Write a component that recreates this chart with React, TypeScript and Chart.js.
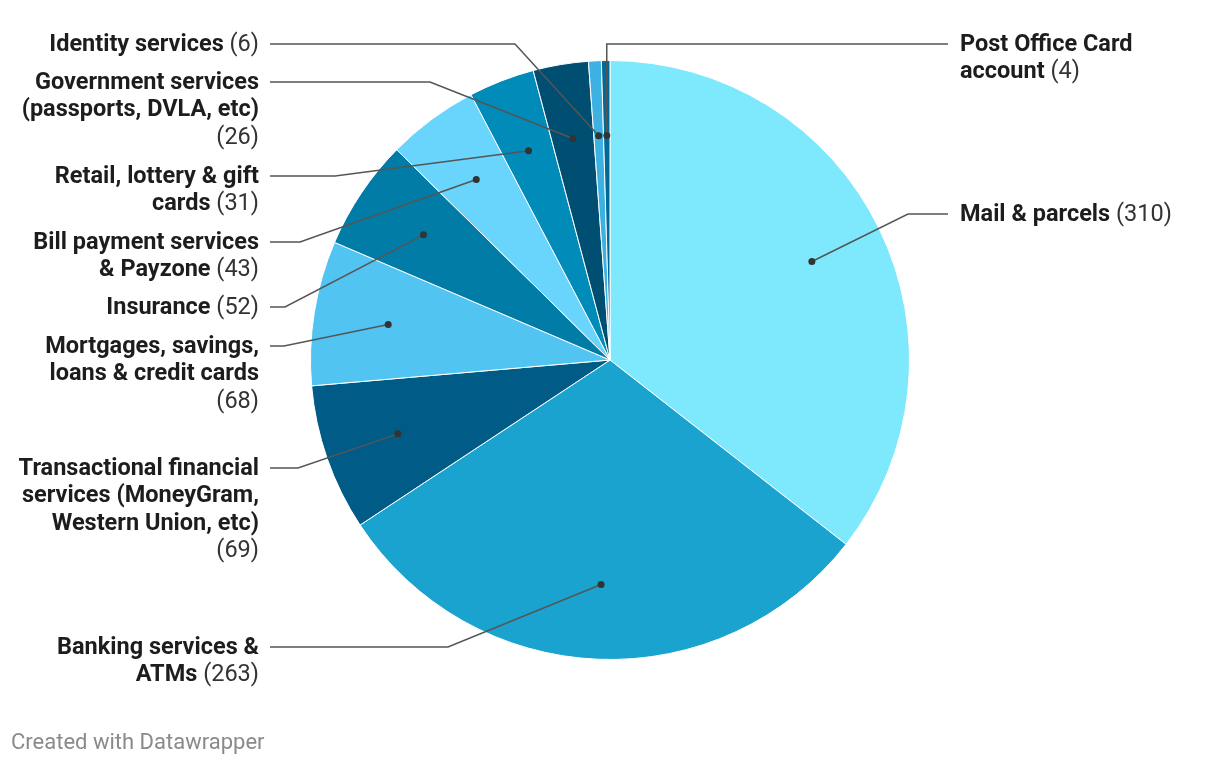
import React, { useEffect, useRef } from "react";
import { Chart, registerables } from "chart.js";

Chart.register(...registerables);

const categories = [
  "Mail & parcels",
  "Banking services & ATMs",
  "Transactional financial services (MoneyGram, Western Union, etc)",
  "Mortgages, savings, loans & credit cards",
  "Insurance",
  "Bill payment services & Payzone",
  "Retail, lottery & gift cards",
  "Government services (passports, DVLA, etc)",
  "Identity services",
  "Post Office Card account",
];
const values = [310, 263, 69, 68, 52, 43, 31, 26, 6, 4];
const colors = [
  "#7ee8fd",
  "#1aa3cf",
  "#005c86",
  "#51c4f1",
  "#017ca7",
  "#69d5fc",
  "#008bb9",
  "#004e72",
  "#3cb1e2",
  "#006a98",
];

// label layout (side, anchor y of first line, elbow x of the leader line)
const labelSide = ["right", "left", "left", "left", "left", "left", "left", "left", "left", "right"];
const labelY = [214, 647, 468, 346, 307, 242, 176, 82, 44, 44];
const elbowX: (number | null)[] = [908, 448, 298, 284, 285, 300, 335, 430, 515, null];

const FONT_FAMILY = "Roboto, 'Noto Sans', sans-serif";
const FONT_SIZE = 23.5;
const LINE_H = 27.5;
const MAX_W = 244;
const LEFT_TEXT_X = 259;
const LEFT_LINE_X = 270;
const RIGHT_TEXT_X = 960;
const RIGHT_LINE_X = 948;

type Tok = { t: string; bold: boolean };

function wrap(ctx: CanvasRenderingContext2D, toks: Tok[]): Tok[][] {
  const lines: Tok[][] = [];
  let cur: Tok[] = [];
  let w = 0;
  const font = (b: boolean) => `${b ? "bold " : ""}${FONT_SIZE}px ${FONT_FAMILY}`;
  for (const tk of toks) {
    ctx.font = font(tk.bold);
    const tw = ctx.measureText(tk.t).width;
    const sw = ctx.measureText(" ").width;
    if (cur.length && w + sw + tw > MAX_W) {
      lines.push(cur);
      cur = [tk];
      w = tw;
    } else {
      w += (cur.length ? sw : 0) + tw;
      cur.push(tk);
    }
  }
  if (cur.length) lines.push(cur);
  return lines;
}

const labelPlugin = {
  id: "dwLabels",
  afterDraw(chart: any) {
    const ctx: CanvasRenderingContext2D = chart.ctx;
    const meta = chart.getDatasetMeta(0);
    ctx.save();
    meta.data.forEach((arc: any, i: number) => {
      const { x, y, startAngle, endAngle, outerRadius } = arc.getProps(
        ["x", "y", "startAngle", "endAngle", "outerRadius"],
        true
      );
      const mid = (startAngle + endAngle) / 2;
      const dx = x + Math.cos(mid) * outerRadius * 0.75;
      const dy = y + Math.sin(mid) * outerRadius * 0.75;
      const side = labelSide[i];
      const ly = labelY[i];
      const ex = elbowX[i] === null ? dx : (elbowX[i] as number);
      // leader line
      ctx.strokeStyle = "#555555";
      ctx.lineWidth = 1.5;
      ctx.beginPath();
      ctx.moveTo(dx, dy);
      ctx.lineTo(ex, ly);
      ctx.lineTo(side === "left" ? LEFT_LINE_X : RIGHT_LINE_X, ly);
      ctx.stroke();
      // dot
      ctx.fillStyle = "#333333";
      ctx.beginPath();
      ctx.arc(dx, dy, 3.5, 0, Math.PI * 2);
      ctx.fill();
      // text
      const toks: Tok[] = categories[i].split(" ").map((t) => ({ t, bold: true }));
      toks.push({ t: `(${values[i]})`, bold: false });
      const lines = wrap(ctx, toks);
      ctx.textBaseline = "middle";
      ctx.textAlign = "left";
      lines.forEach((ln, li) => {
        let total = 0;
        const widths: number[] = [];
        const spaces: number[] = [];
        ln.forEach((tk, k) => {
          ctx.font = `${tk.bold ? "bold " : ""}${FONT_SIZE}px ${FONT_FAMILY}`;
          const tw = ctx.measureText(tk.t).width;
          const sw = k > 0 ? ctx.measureText(" ").width : 0;
          widths.push(tw);
          spaces.push(sw);
          total += tw + sw;
        });
        let cx = side === "left" ? LEFT_TEXT_X - total : RIGHT_TEXT_X;
        const cy = ly + li * LINE_H;
        ln.forEach((tk, k) => {
          cx += spaces[k];
          ctx.font = `${tk.bold ? "bold " : ""}${FONT_SIZE}px ${FONT_FAMILY}`;
          ctx.fillStyle = tk.bold ? "#1d1d1d" : "#333333";
          ctx.fillText(tk.t, cx, cy + 1);
          cx += widths[k];
        });
      });
    });
    // footer
    ctx.font = `22px ${FONT_FAMILY}`;
    ctx.fillStyle = "#8a8a8a";
    ctx.textAlign = "left";
    ctx.textBaseline = "middle";
    ctx.fillText("Created with Datawrapper", 11, 743);
    ctx.restore();
  },
};

export default function App() {
  const ref = useRef<HTMLCanvasElement>(null);
  useEffect(() => {
    if (!ref.current) return;
    const chart = new Chart(ref.current, {
      type: "pie",
      data: {
        labels: categories,
        datasets: [
          {
            data: values,
            backgroundColor: colors,
            borderColor: "#ffffff",
            borderWidth: 1,
          },
        ],
      },
      options: {
        responsive: false,
        animation: false,
        layout: { padding: { left: 310, right: 310, top: 60, bottom: 106 } },
        plugins: { legend: { display: false }, tooltip: { enabled: false } },
      },
      plugins: [labelPlugin],
    });
    return () => chart.destroy();
  }, []);
  return (
    <div style={{ position: "fixed", left: 0, top: 0, width: 1220, height: 766, background: "#fff" }}>
      <canvas ref={ref} width={1220} height={766} />
    </div>
  );
}
